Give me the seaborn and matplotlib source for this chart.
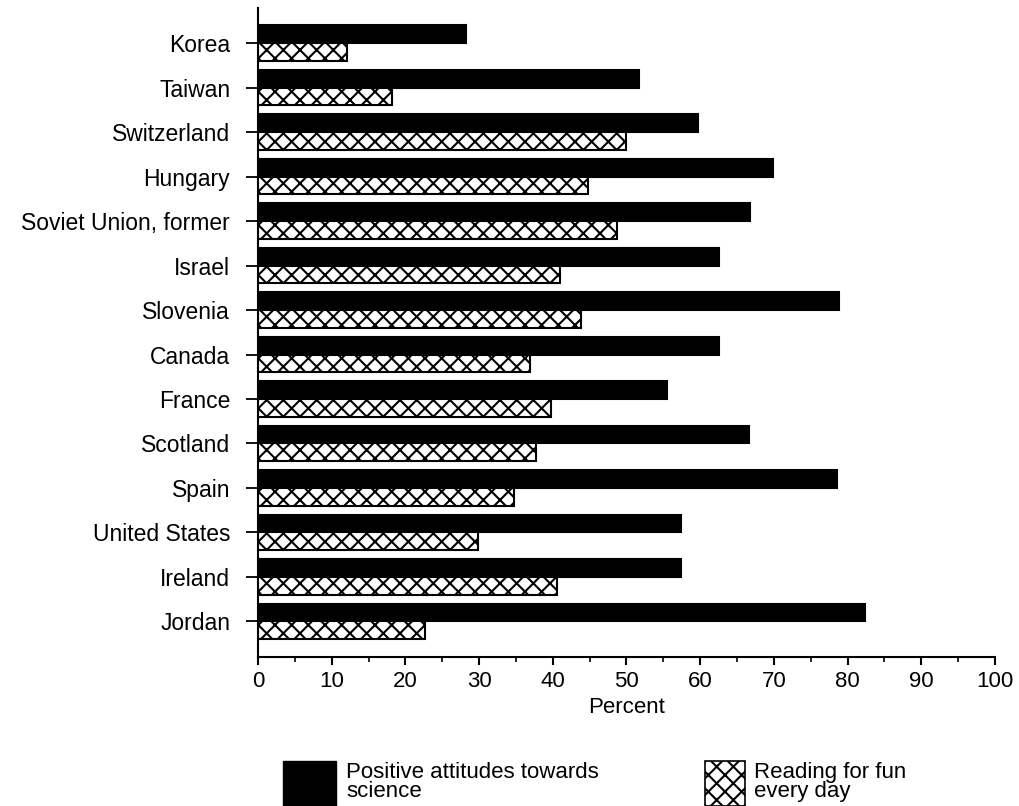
import pandas as pd
import matplotlib
matplotlib.use("Agg")
import matplotlib.pyplot as plt
from matplotlib.patches import Patch
from matplotlib.ticker import MultipleLocator
import seaborn as sns

countries = ["Korea", "Taiwan", "Switzerland", "Hungary", "Soviet Union, former",
             "Israel", "Slovenia", "Canada", "France", "Scotland", "Spain",
             "United States", "Ireland", "Jordan"]
science = [28.2, 51.7, 59.7, 69.9, 66.8, 62.6, 78.8, 62.6, 55.5, 66.6, 78.5, 57.4, 57.4, 82.3]
reading = [12.1, 18.2, 49.9, 44.8, 48.7, 41.0, 43.8, 36.9, 39.8, 37.7, 34.8, 29.8, 40.6, 22.6]
series_names = ["Positive attitudes towards\nscience", "Reading for fun\nevery day"]

df = pd.DataFrame({"country": countries, series_names[0]: science, series_names[1]: reading})
long_df = df.melt(id_vars="country", var_name="series", value_name="percent")

sns.set_style("ticks", {"text.color": "black", "axes.labelcolor": "black",
                        "xtick.color": "black", "ytick.color": "black",
                        "axes.edgecolor": "black"})
plt.rcParams["font.family"] = ["Liberation Sans", "DejaVu Sans"]
plt.rcParams["hatch.linewidth"] = 1.5
FS = 16

fig = plt.figure(figsize=(10.2, 8.06), dpi=100)
ax = fig.add_axes([0.2529, 0.1849, 0.7226, 0.8051])

sns.barplot(data=long_df, x="percent", y="country", hue="series", order=countries,
            hue_order=series_names, palette=["black", "white"], orient="h",
            edgecolor="black", linewidth=1.5, width=0.8, dodge=True, legend=False,
            errorbar=None, saturation=1, ax=ax)

# second series gets the cross hatch
for bar in ax.containers[1]:
    bar.set_hatch("xx")

ax.set_xlim(0, 100)
ax.set_ylim(13.8, -0.79)
ax.xaxis.set_major_locator(MultipleLocator(10))
ax.xaxis.set_minor_locator(MultipleLocator(5))
ax.tick_params(axis="x", which="major", length=6, width=1.5, labelsize=FS, pad=4)
ax.tick_params(axis="x", which="minor", length=3.5, width=1.2)
ax.tick_params(axis="y", length=9, width=1.3, labelsize=16.5, pad=11)
for s in ["top", "right"]:
    ax.spines[s].set_visible(False)
for s in ["left", "bottom"]:
    ax.spines[s].set_linewidth(1.5)
ax.set_xlabel("Percent", fontsize=FS, labelpad=4)
ax.set_ylabel("")

leg1 = fig.legend(handles=[Patch(facecolor="black", edgecolor="black")],
                  labels=[series_names[0]], loc="center left",
                  bbox_to_anchor=(0.2775, 0.028), frameon=False, fontsize=FS,
                  handlelength=2.4, handleheight=2.7, handletextpad=0.45,
                  labelspacing=0, borderpad=0, borderaxespad=0)
leg2 = fig.legend(handles=[Patch(facecolor="white", edgecolor="black", hatch="xx", linewidth=1.2)],
                  labels=[series_names[1]], loc="center left",
                  bbox_to_anchor=(0.691, 0.028), frameon=False, fontsize=FS,
                  handlelength=1.8, handleheight=2.7, handletextpad=0.4,
                  labelspacing=0, borderpad=0, borderaxespad=0)
for leg in (leg1, leg2):
    for t in leg.get_texts():
        t.set_linespacing(0.85)

fig.savefig("out.png", dpi=100)
